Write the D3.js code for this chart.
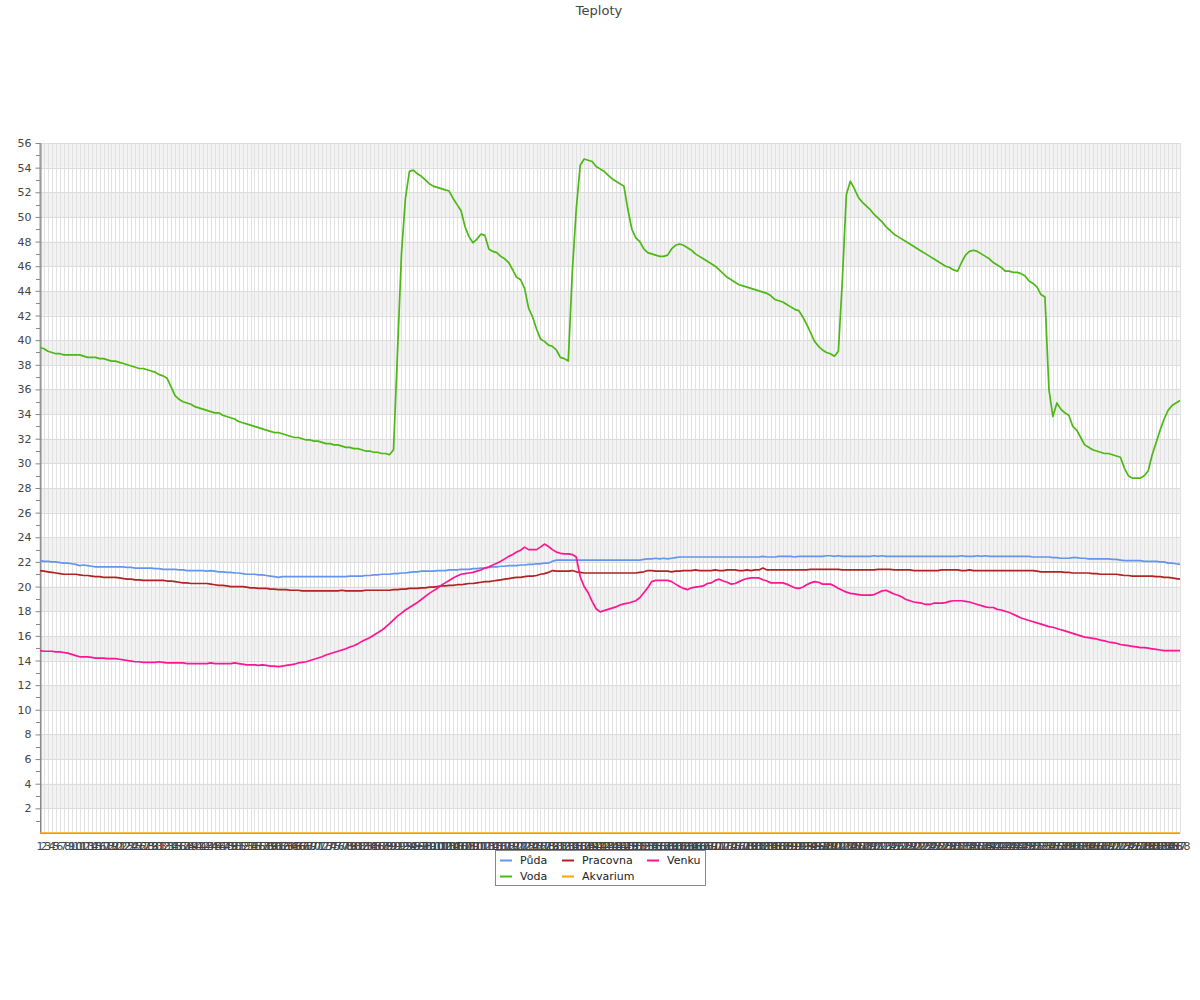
<!DOCTYPE html>
<html><head><meta charset="utf-8">
<script src="https://cdn.jsdelivr.net/npm/d3@7"></script>
<style>body{margin:0;background:#fff}text{font-family:"DejaVu Sans",sans-serif}</style>
</head><body><svg id="c" width="1200" height="1000"></svg>
<script>
const categories = [
"1","2","3","4","5","6","7","8","9","10","11","12","13","14","15","16","17","18","19","20",
"21","22","23","24","25","26","27","28","29","30","31","32","33","34","35","36","37","38","39","40",
"41","42","43","44","45","46","47","48","49","50","51","52","53","54","55","56","57","58","59","60",
"61","62","63","64","65","66","67","68","69","70","71","72","73","74","75","76","77","78","79","80",
"81","82","83","84","85","86","87","88","89","90","91","92","93","94","95","96","97","98","99","100",
"101","102","103","104","105","106","107","108","109","110","111","112","113","114","115","116","117","118","119","120",
"121","122","123","124","125","126","127","128","129","130","131","132","133","134","135","136","137","138","139","140",
"141","142","143","144","145","146","147","148","149","150","151","152","153","154","155","156","157","158","159","160",
"161","162","163","164","165","166","167","168","169","170","171","172","173","174","175","176","177","178","179","180",
"181","182","183","184","185","186","187","188","189","190","191","192","193","194","195","196","197","198","199","200",
"201","202","203","204","205","206","207","208","209","210","211","212","213","214","215","216","217","218","219","220",
"221","222","223","224","225","226","227","228","229","230","231","232","233","234","235","236","237","238","239","240",
"241","242","243","244","245","246","247","248","249","250","251","252","253","254","255","256","257","258","259","260",
"261","262","263","264","265","266","267","268","269","270","271","272","273","274","275","276","277","278","279","280",
"281","282","283","284","285","286","287","288"];

const yTicks = [2,4,6,8,10,12,14,16,18,20,22,24,26,28,30,32,34,36,38,40,42,44,46,48,50,52,54,56];
const yMinor = [1,3,5,7,9,11,13,15,17,19,21,23,25,27,29,31,33,35,37,39,41,43,45,47,49,51,53,55];

const puda = [
22.1,22.05,22.05,22.0,22.0,21.95,21.9,21.9,21.85,21.8,
21.7,21.75,21.7,21.65,21.6,21.6,21.6,21.6,21.6,21.6,
21.6,21.6,21.55,21.55,21.5,21.5,21.5,21.5,21.5,21.45,
21.45,21.4,21.4,21.4,21.4,21.35,21.35,21.3,21.3,21.3,
21.3,21.3,21.25,21.3,21.25,21.2,21.2,21.15,21.15,21.1,
21.1,21.05,21.0,21.0,21.0,20.95,20.95,20.9,20.85,20.8,
20.75,20.8,20.8,20.8,20.8,20.8,20.8,20.8,20.8,20.8,
20.8,20.8,20.8,20.8,20.8,20.8,20.8,20.8,20.85,20.85,
20.85,20.85,20.9,20.9,20.95,20.95,21.0,21.0,21.0,21.05,
21.05,21.1,21.1,21.15,21.2,21.2,21.25,21.25,21.25,21.25,
21.3,21.3,21.3,21.35,21.35,21.35,21.4,21.4,21.4,21.45,
21.45,21.5,21.5,21.55,21.6,21.6,21.65,21.65,21.7,21.7,
21.7,21.75,21.75,21.8,21.8,21.85,21.85,21.9,21.9,22.05,
22.15,22.15,22.15,22.15,22.15,22.15,22.15,22.15,22.15,22.15,
22.15,22.15,22.15,22.15,22.15,22.15,22.15,22.15,22.15,22.15,
22.15,22.15,22.2,22.25,22.25,22.3,22.25,22.3,22.25,22.3,
22.35,22.4,22.4,22.4,22.4,22.4,22.4,22.4,22.4,22.4,
22.4,22.4,22.4,22.4,22.4,22.4,22.4,22.4,22.4,22.4,
22.4,22.4,22.45,22.4,22.4,22.4,22.45,22.45,22.45,22.45,
22.4,22.45,22.45,22.45,22.45,22.45,22.45,22.45,22.5,22.5,
22.45,22.5,22.45,22.45,22.45,22.45,22.45,22.45,22.45,22.45,
22.5,22.45,22.5,22.45,22.45,22.45,22.45,22.45,22.45,22.45,
22.45,22.45,22.45,22.45,22.45,22.45,22.45,22.45,22.45,22.45,
22.45,22.45,22.5,22.45,22.45,22.45,22.5,22.45,22.5,22.45,
22.45,22.45,22.45,22.45,22.45,22.45,22.45,22.45,22.45,22.45,
22.4,22.4,22.4,22.4,22.4,22.35,22.35,22.3,22.3,22.3,
22.35,22.35,22.3,22.3,22.25,22.25,22.25,22.25,22.25,22.25,
22.2,22.2,22.15,22.1,22.1,22.1,22.1,22.1,22.05,22.05,
22.05,22.05,22.0,22.0,21.9,21.9,21.85,21.8];

const pracovna = [
21.3,21.25,21.2,21.15,21.1,21.05,21.0,21.0,21.0,21.0,
20.95,20.9,20.9,20.85,20.8,20.8,20.75,20.75,20.75,20.75,
20.7,20.65,20.6,20.6,20.55,20.55,20.5,20.5,20.5,20.5,
20.5,20.5,20.45,20.45,20.4,20.35,20.3,20.3,20.25,20.25,
20.25,20.25,20.25,20.2,20.15,20.1,20.1,20.05,20.0,20.0,
20.0,20.0,19.95,19.9,19.9,19.85,19.85,19.85,19.8,19.8,
19.75,19.75,19.75,19.7,19.7,19.7,19.65,19.65,19.65,19.65,
19.65,19.65,19.65,19.65,19.65,19.65,19.7,19.65,19.65,19.65,
19.65,19.65,19.7,19.7,19.7,19.7,19.7,19.7,19.7,19.75,
19.75,19.8,19.8,19.85,19.85,19.85,19.9,19.9,19.95,19.95,
20.0,20.05,20.05,20.1,20.1,20.15,20.15,20.2,20.25,20.25,
20.3,20.35,20.4,20.4,20.45,20.5,20.55,20.6,20.65,20.7,
20.75,20.75,20.8,20.85,20.85,20.9,21.0,21.05,21.15,21.3,
21.25,21.25,21.25,21.25,21.3,21.2,21.15,21.1,21.1,21.1,
21.1,21.1,21.1,21.1,21.1,21.1,21.1,21.1,21.1,21.1,
21.1,21.15,21.2,21.3,21.3,21.25,21.25,21.25,21.25,21.2,
21.25,21.25,21.3,21.3,21.3,21.35,21.3,21.3,21.3,21.3,
21.35,21.3,21.3,21.35,21.35,21.35,21.3,21.3,21.35,21.3,
21.35,21.35,21.5,21.35,21.35,21.35,21.35,21.35,21.35,21.35,
21.35,21.35,21.35,21.35,21.4,21.4,21.4,21.4,21.4,21.4,
21.4,21.4,21.35,21.35,21.35,21.35,21.35,21.35,21.35,21.35,
21.35,21.4,21.4,21.4,21.4,21.35,21.35,21.35,21.35,21.35,
21.3,21.3,21.3,21.3,21.3,21.3,21.3,21.35,21.35,21.35,
21.35,21.35,21.3,21.3,21.35,21.3,21.3,21.3,21.3,21.3,
21.3,21.3,21.3,21.3,21.3,21.3,21.3,21.3,21.3,21.3,
21.3,21.25,21.2,21.2,21.2,21.2,21.2,21.2,21.15,21.15,
21.1,21.1,21.1,21.1,21.1,21.05,21.05,21.0,21.0,21.0,
21.0,21.0,20.95,20.9,20.9,20.85,20.85,20.85,20.85,20.85,
20.85,20.8,20.8,20.75,20.75,20.7,20.65,20.6];

const venku = [
14.8,14.75,14.75,14.75,14.7,14.7,14.65,14.6,14.5,14.4,
14.3,14.3,14.3,14.25,14.2,14.2,14.2,14.15,14.15,14.15,
14.1,14.05,14.0,13.95,13.9,13.9,13.85,13.85,13.85,13.85,
13.9,13.85,13.8,13.8,13.8,13.8,13.8,13.75,13.75,13.75,
13.75,13.75,13.75,13.8,13.75,13.75,13.75,13.75,13.75,13.8,
13.75,13.7,13.65,13.65,13.65,13.6,13.65,13.6,13.55,13.55,
13.5,13.55,13.6,13.65,13.7,13.8,13.85,13.9,14.0,14.1,
14.2,14.3,14.45,14.55,14.65,14.75,14.85,14.95,15.1,15.2,
15.35,15.55,15.7,15.85,16.05,16.25,16.45,16.7,17.0,17.3,
17.6,17.85,18.1,18.3,18.5,18.7,18.95,19.2,19.45,19.65,
19.85,20.1,20.3,20.5,20.7,20.85,21.0,21.05,21.1,21.15,
21.25,21.35,21.5,21.6,21.75,21.9,22.05,22.25,22.45,22.6,
22.8,22.95,23.2,23.0,23.0,23.0,23.2,23.45,23.25,23.0,
22.8,22.7,22.65,22.65,22.6,22.4,20.8,20.0,19.5,18.8,
18.2,17.95,18.05,18.15,18.25,18.35,18.5,18.6,18.65,18.75,
18.85,19.1,19.5,19.9,20.4,20.5,20.5,20.5,20.5,20.4,
20.2,20.0,19.85,19.75,19.9,19.95,20.0,20.05,20.25,20.3,
20.5,20.6,20.45,20.35,20.2,20.25,20.4,20.55,20.65,20.7,
20.7,20.7,20.55,20.45,20.3,20.3,20.3,20.3,20.2,20.05,
19.9,19.85,19.95,20.15,20.3,20.4,20.35,20.2,20.2,20.2,
20.05,19.85,19.7,19.55,19.45,19.4,19.35,19.3,19.3,19.3,
19.35,19.5,19.65,19.7,19.55,19.4,19.3,19.15,18.95,18.85,
18.75,18.7,18.65,18.55,18.55,18.65,18.65,18.65,18.7,18.8,
18.85,18.85,18.85,18.8,18.75,18.65,18.55,18.45,18.35,18.3,
18.3,18.15,18.1,18.0,17.9,17.75,17.6,17.45,17.35,17.25,
17.15,17.05,16.95,16.85,16.75,16.7,16.6,16.5,16.4,16.3,
16.2,16.1,16.0,15.9,15.85,15.8,15.75,15.65,15.6,15.5,
15.45,15.4,15.3,15.25,15.2,15.15,15.1,15.05,15.05,15.0,
14.95,14.9,14.85,14.8,14.8,14.8,14.8,14.8];

const voda = [
39.4,39.3,39.1,39.0,38.9,38.9,38.8,38.8,38.8,38.8,
38.8,38.7,38.6,38.6,38.6,38.5,38.5,38.4,38.3,38.3,
38.2,38.1,38.0,37.9,37.8,37.7,37.7,37.6,37.5,37.4,
37.2,37.1,36.9,36.2,35.5,35.2,35.0,34.9,34.8,34.6,
34.5,34.4,34.3,34.2,34.1,34.1,33.9,33.8,33.7,33.6,
33.4,33.3,33.2,33.1,33.0,32.9,32.8,32.7,32.6,32.5,
32.5,32.4,32.3,32.2,32.1,32.1,32.0,31.9,31.9,31.8,
31.8,31.7,31.6,31.6,31.5,31.5,31.4,31.3,31.3,31.2,
31.2,31.1,31.0,31.0,30.9,30.9,30.8,30.8,30.7,31.1,
39.0,47.0,51.5,53.7,53.8,53.5,53.3,53.0,52.7,52.5,
52.4,52.3,52.2,52.1,51.5,51.0,50.5,49.2,48.4,47.9,
48.2,48.6,48.5,47.4,47.2,47.1,46.8,46.6,46.3,45.7,
45.1,44.9,44.2,42.6,41.9,40.9,40.1,39.9,39.6,39.5,
39.2,38.6,38.5,38.3,45.5,50.6,54.2,54.7,54.6,54.5,
54.1,53.9,53.7,53.4,53.1,52.9,52.7,52.5,50.6,49.0,
48.3,48.0,47.4,47.1,47.0,46.9,46.8,46.8,46.9,47.4,
47.7,47.8,47.7,47.5,47.3,47.0,46.8,46.6,46.4,46.2,
46.0,45.7,45.4,45.1,44.9,44.7,44.5,44.4,44.3,44.2,
44.1,44.0,43.9,43.8,43.6,43.3,43.2,43.1,42.9,42.7,
42.5,42.4,41.9,41.3,40.6,39.9,39.5,39.2,39.0,38.9,
38.7,39.1,44.9,51.8,52.9,52.3,51.6,51.2,50.9,50.6,
50.2,49.9,49.6,49.2,48.9,48.6,48.4,48.2,48.0,47.8,
47.6,47.4,47.2,47.0,46.8,46.6,46.4,46.2,46.0,45.9,
45.7,45.6,46.3,46.9,47.2,47.3,47.2,47.0,46.8,46.6,
46.3,46.1,45.9,45.6,45.6,45.5,45.5,45.4,45.2,44.8,
44.6,44.3,43.7,43.5,36.0,33.8,34.9,34.4,34.1,33.9,
33.0,32.7,32.1,31.5,31.3,31.1,31.0,30.9,30.8,30.8,
30.7,30.6,30.5,29.6,29.0,28.8,28.8,28.8,29.0,29.4,
30.7,31.7,32.7,33.6,34.3,34.7,34.9,35.1];

const akvarium = [
0,0,0,0,0,0,0,0,0,0,0,0,0,0,0,0,0,0,0,0,0,0,0,0,0,0,0,0,0,0,0,0,0,0,0,0,0,0,0,0,
0,0,0,0,0,0,0,0,0,0,0,0,0,0,0,0,0,0,0,0,0,0,0,0,0,0,0,0,0,0,0,0,0,0,0,0,0,0,0,0,
0,0,0,0,0,0,0,0,0,0,0,0,0,0,0,0,0,0,0,0,0,0,0,0,0,0,0,0,0,0,0,0,0,0,0,0,0,0,0,0,
0,0,0,0,0,0,0,0,0,0,0,0,0,0,0,0,0,0,0,0,0,0,0,0,0,0,0,0,0,0,0,0,0,0,0,0,0,0,0,0,
0,0,0,0,0,0,0,0,0,0,0,0,0,0,0,0,0,0,0,0,0,0,0,0,0,0,0,0,0,0,0,0,0,0,0,0,0,0,0,0,
0,0,0,0,0,0,0,0,0,0,0,0,0,0,0,0,0,0,0,0,0,0,0,0,0,0,0,0,0,0,0,0,0,0,0,0,0,0,0,0,
0,0,0,0,0,0,0,0,0,0,0,0,0,0,0,0,0,0,0,0,0,0,0,0,0,0,0,0,0,0,0,0,0,0,0,0,0,0,0,0,
0,0,0,0,0,0,0,0];

const seriesNames = ["Půda","Voda","Pracovna","Akvarium","Venku"];
const seriesColors = ["#6495ed","#4cb814","#b22222","#ffa500","#ff1493"];
const seriesData = [puda, voda, pracovna, akvarium, venku];

const svg = d3.select("#c");
const x = d3.scalePoint().domain(categories).range([40,1180]);
const y = d3.scaleLinear().domain([0,56]).range([833,143]);

// title
svg.append("text").attr("x",599).attr("y",15).attr("text-anchor","middle")
  .attr("font-size",13).attr("fill","#444").text("Teploty");

// bands
const bandStarts = yTicks.filter(v => v % 4 === 2);
svg.append("g").selectAll("rect").data(bandStarts).join("rect")
  .attr("x",40).attr("width",1140)
  .attr("y",d=>y(d+2)).attr("height",d=>y(d)-y(d+2)).attr("fill","#f2f2f2");

// vertical grid
svg.append("g").selectAll("line").data(categories).join("line")
  .attr("x1",d=>Math.round(x(d))+0.5).attr("x2",d=>Math.round(x(d))+0.5)
  .attr("y1",143).attr("y2",833).attr("stroke","#e2e2e2").attr("stroke-width",1);

// horizontal grid
svg.append("g").selectAll("line").data(yTicks).join("line")
  .attr("x1",40).attr("x2",1180).attr("y1",d=>Math.round(y(d))+0.5).attr("y2",d=>Math.round(y(d))+0.5)
  .attr("stroke","#dcdcdc").attr("stroke-width",1);

// y axis
const yAxis = svg.append("g").attr("transform","translate(40.5,0)")
  .call(d3.axisLeft(y).tickValues(yTicks).tickSize(5).tickSizeOuter(0));
yAxis.select(".domain").attr("stroke","#888");
yAxis.selectAll(".tick line").attr("stroke","#888");
yAxis.selectAll(".tick text").attr("font-size",11).attr("fill","#444").attr("font-family","DejaVu Sans").attr("x",-9);
svg.append("g").selectAll("line").data(yMinor).join("line")
  .attr("x1",36).attr("x2",40).attr("y1",d=>Math.round(y(d))+0.5).attr("y2",d=>Math.round(y(d))+0.5)
  .attr("stroke","#888");
svg.append("line").attr("x1",40).attr("x2",40.5).attr("y1",143).attr("y2",833).attr("stroke","#888");
svg.append("line").attr("x1",40).attr("x2",1180).attr("y1",833.5).attr("y2",833.5).attr("stroke","#888");

// x labels
svg.append("g").selectAll("text").data(categories).join("text")
  .attr("x",d=>x(d)).attr("y",850).attr("text-anchor","middle")
  .attr("font-size",11).attr("fill","#444").text(d=>d);

// lines
const line = d3.line().x((d,i)=>x(categories[i])).y(d=>y(d));
const order = [1,0,2,4,3];
svg.append("g").selectAll("path").data(order).join("path")
  .attr("d",k=>line(seriesData[k])).attr("fill","none")
  .attr("stroke",k=>seriesColors[k]).attr("stroke-width",1.7).attr("stroke-linejoin","round");

// legend
const lg = svg.append("g");
lg.append("rect").attr("x",495.5).attr("y",850.5).attr("width",210).attr("height",35)
  .attr("fill","#fff").attr("stroke","#888");
const legPos = [[500,860],[500,876],[562,860],[562,876],[647,860]];
seriesNames.forEach((n,k)=>{
  const [lx,ly] = legPos[k];
  lg.append("line").attr("x1",lx).attr("x2",lx+12).attr("y1",ly+0.5).attr("y2",ly+0.5)
    .attr("stroke",seriesColors[k]).attr("stroke-width",2);
  lg.append("text").attr("x",lx+20).attr("y",ly+4).attr("font-size",11).attr("fill","#222").text(n);
});

const lens = seriesData.map(a=>a.length);
if (lens.some(l=>l!==288) || categories.length!==288) {
  svg.append("text").attr("x",10).attr("y",990).attr("fill","red").text("LEN "+lens.join(",")+" cat "+categories.length);
}
</script></body></html>
